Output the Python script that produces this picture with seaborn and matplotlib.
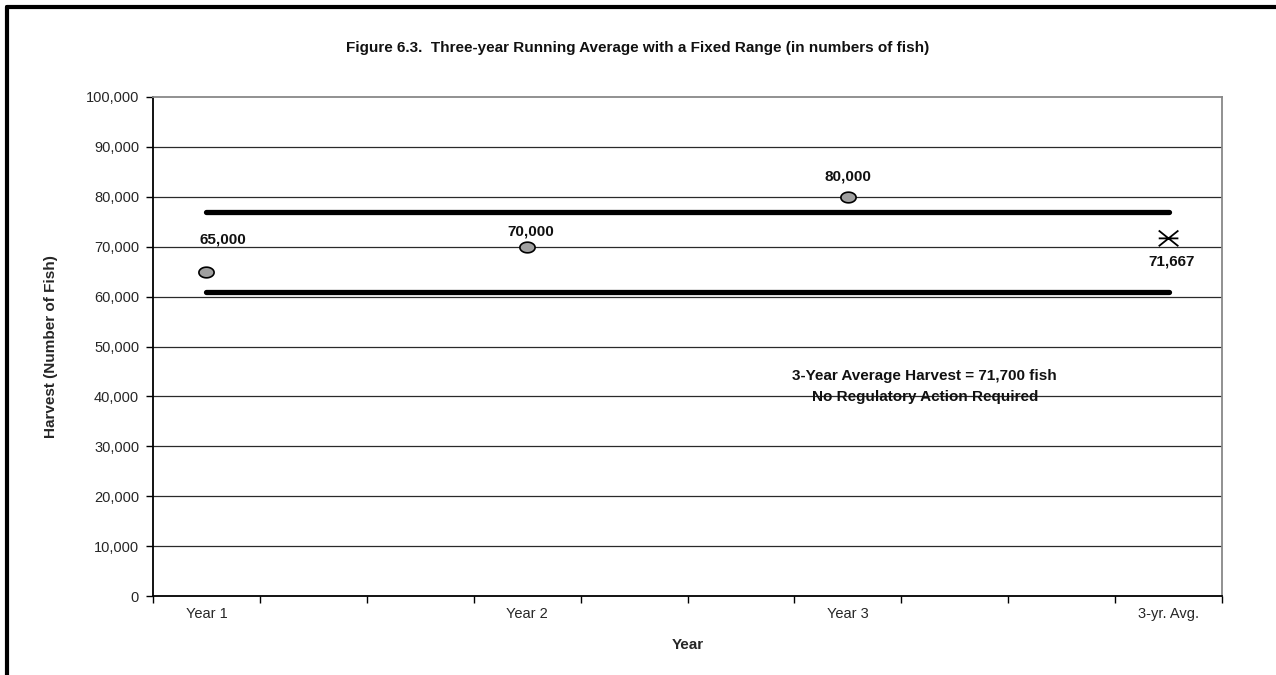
import numpy as np
import pandas as pd
import matplotlib
matplotlib.use("Agg")
import matplotlib.pyplot as plt
from matplotlib.lines import Line2D
from matplotlib.path import Path
import seaborn as sns

# data
categories = ["Year 1", "Year 2", "Year 3", "3-yr. Avg."]
year_labels = ["Year 1", "Year 2", "Year 3"]
harvest = [65000, 70000, 80000]
avg_label = "3-yr. Avg."
avg_harvest = 71667
range_low = 61000
range_high = 77000
y_ticks = list(range(0, 100001, 10000))

sns.set_theme(style="white")
plt.rcParams["font.family"] = ["Liberation Sans", "DejaVu Sans"]

fig = plt.figure(figsize=(12.76, 6.75), dpi=100)
ax = fig.add_axes([153 / 1276, 1 - 596 / 675, (1222 - 153) / 1276, (596 - 97) / 675])

pos = {c: i for i, c in enumerate(categories)}
pts = pd.DataFrame({"x": [pos[c] for c in year_labels], "y": harvest})
avg_df = pd.DataFrame({"x": [pos[avg_label]], "y": [avg_harvest]})

# flattened circle marker, like the original
t = np.linspace(0, 2 * np.pi, 40)
ellipse = Path(np.column_stack([np.cos(t), 0.7 * np.sin(t)]), closed=True)
# X with a horizontal bar
star = Path([(-1, -0.8), (1, 0.8), (-1, 0.8), (1, -0.8), (-1, 0), (1, 0)],
            [Path.MOVETO, Path.LINETO] * 3)

# grid lines
for v in y_ticks[1:-1]:
    ax.axhline(v, color="#2a2a2a", lw=0.9, zorder=1)

# fixed range lines
for v in (range_low, range_high):
    rng = pd.DataFrame({"x": [pos["Year 1"], pos[avg_label]], "y": [v, v]})
    sns.lineplot(data=rng, x="x", y="y", ax=ax, color="black", lw=3.8,
                 solid_capstyle="round", zorder=3)

sns.scatterplot(data=pts, x="x", y="y", ax=ax, s=120, color="#a0a0a0",
                marker=ellipse, edgecolor="black", linewidth=1.2, zorder=4)
sns.scatterplot(data=avg_df, x="x", y="y", ax=ax, s=200, color="none",
                marker=star, edgecolor="black", linewidth=1.3, zorder=4)

lab_kw = dict(fontsize=11, fontweight="bold", ha="center", va="center", color="#111111")
ax.text(pos["Year 1"] + 0.05, harvest[0] + 6500, f"{harvest[0]:,}", **lab_kw)
ax.text(pos["Year 2"] + 0.01, harvest[1] + 3000, f"{harvest[1]:,}", **lab_kw)
ax.text(pos["Year 3"], harvest[2] + 4000, f"{harvest[2]:,}", **lab_kw)
ax.text(pos[avg_label] + 0.01, avg_harvest - 4700, f"{avg_harvest:,}", **lab_kw)

ax.text(2.24, 42000, "3-Year Average Harvest = 71,700 fish\nNo Regulatory Action Required",
        fontsize=11, fontweight="bold", ha="center", va="center", linespacing=1.6,
        color="#111111")

ax.set_xlim(-1 / 6, 3 + 1 / 6)
ax.set_ylim(0, 100000)
ax.set_xticks(np.arange(11) / 3 - 1 / 6)
ax.set_xticklabels([])
ax.set_xticks(range(len(categories)), minor=True)
ax.set_xticklabels(categories, minor=True, fontsize=10.5)
ax.tick_params(axis="x", which="major", direction="out", length=5, width=1,
               color="black", bottom=True)
ax.tick_params(axis="x", which="minor", length=0, pad=8)
ax.set_yticks(y_ticks)
ax.set_yticklabels([f"{v:,}" for v in y_ticks], fontsize=10.5)
ax.tick_params(axis="y", direction="out", length=5, width=1, color="black",
               left=True, pad=5)

for side in ("left", "bottom"):
    ax.spines[side].set_color("black")
    ax.spines[side].set_linewidth(1.3)
for side in ("top", "right"):
    ax.spines[side].set_color("#888888")
    ax.spines[side].set_linewidth(1.3)

ax.set_xlabel("Year", fontsize=11, fontweight="bold", labelpad=12)
ax.set_ylabel("Harvest (Number of Fish)", fontsize=11, fontweight="bold", labelpad=20)

fig.text(0.5, 1 - 48 / 675,
         "Figure 6.3.  Three-year Running Average with a Fixed Range (in numbers of fish)",
         fontsize=11, fontweight="bold", ha="center", va="center", color="#111111")

# outer frame (left and top only)
fig.add_artist(Line2D([7 / 1276, 7 / 1276], [0, 1 - 7 / 675], color="black", lw=3))
fig.add_artist(Line2D([7 / 1276, 1], [1 - 7 / 675, 1 - 7 / 675], color="black", lw=3))

fig.savefig("out.png", dpi=100, facecolor="white")
